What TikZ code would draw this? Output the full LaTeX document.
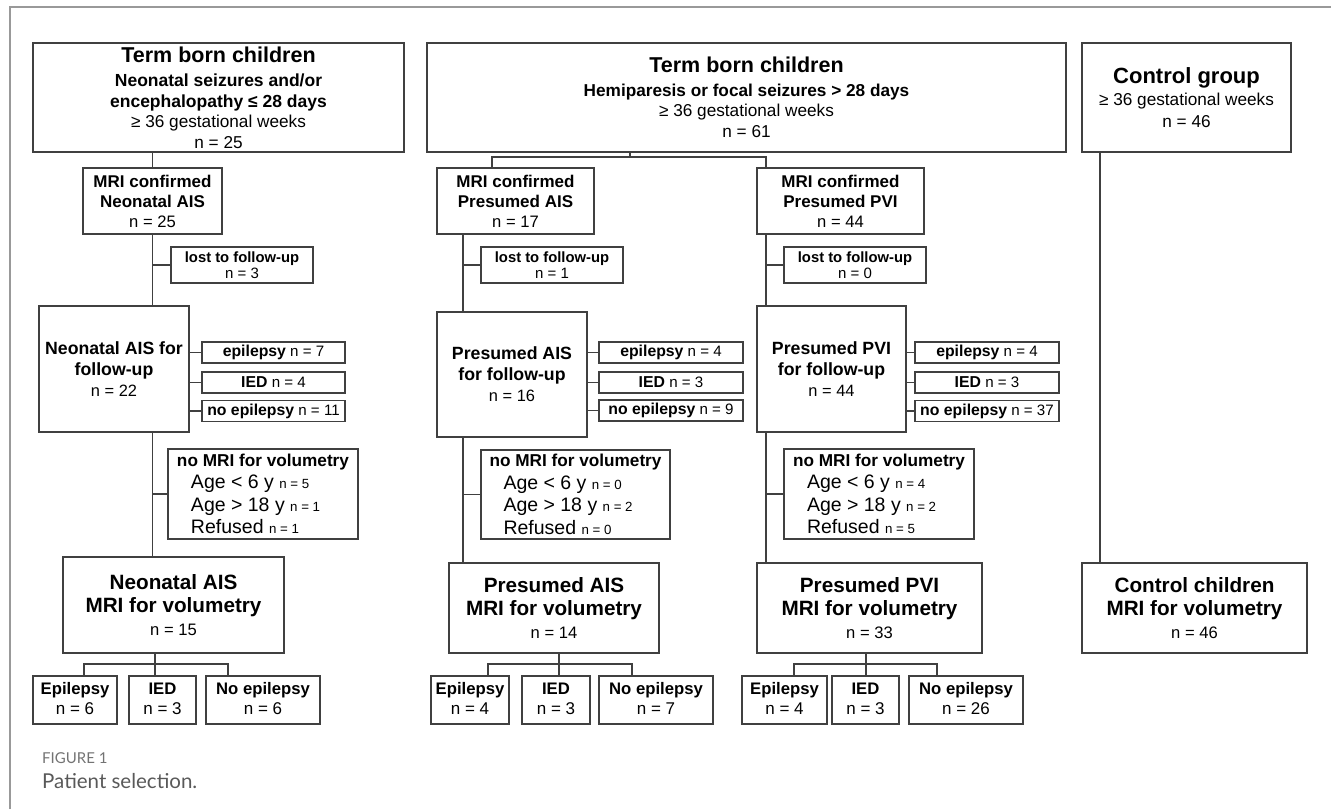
\documentclass[tikz,border=0pt]{standalone}
\usepackage{fontspec}
\setmainfont{Liberation Sans}
\newfontfamily\captionfont{Lato}
\usepackage{tikz}
\newcommand{\fsz}[2]{\fontsize{#1}{#2}\selectfont}

\begin{document}
\begin{tikzpicture}[x=1pt, y=-1pt,
    box/.style={draw=black!75, line width=1.4pt, fill=white, align=center, inner sep=0pt, text=black},
    dims/.style 2 args={minimum width=#1pt, minimum height=#2pt},
    link/.style={black!75, line width=1.4pt}]
    \useasboundingbox (0,0) rectangle (1331,809);

    % Frame of the figure
    \draw[black!40, line width=1.2pt] (10,809) -- (10,7) -- (1331,7);

    % Top row
    \node[box, dims={371}{109}, font=\fsz{17.2}{20.5}] (top1) at (218.5,97.5)
        {{\fsz{21.5}{24}\bfseries Term born children}\\[4pt]
         {\fsz{17.5}{20.5}\bfseries Neonatal seizures and/or}\\
         {\fsz{17.5}{20.5}\bfseries encephalopathy ≤ 28 days}\\
         ≥ 36 gestational weeks\\
         n = 25};
    \node[box, dims={639}{109}, font=\fsz{17.2}{20.5}] (top2) at (746.5,97.5)
        {{\fsz{21.5}{24}\bfseries Term born children}\\[3pt]
         {\fsz{17.2}{20.5}\bfseries Hemiparesis or focal seizures > 28 days}\\
         ≥ 36 gestational weeks\\
         n = 61};
    \node[box, dims={209}{109}, font=\fsz{17.2}{22}] (top4) at (1186.5,97.5)
        {{\fsz{22}{24}\bfseries Control group}\\
         ≥ 36 gestational weeks\\
         n = 46};

    % MRI confirmed
    \node[box, dims={139}{66}, font=\fsz{16.6}{20}] (mri1) at (152.5,201)
        {{\fsz{17}{20}\bfseries MRI confirmed}\\{\fsz{17}{20}\bfseries Neonatal AIS}\\n = 25};
    \node[box, dims={157}{66}, font=\fsz{16.6}{20}] (mri2) at (515.5,201)
        {{\fsz{17}{20}\bfseries MRI confirmed}\\{\fsz{17}{20}\bfseries Presumed AIS}\\n = 17};
    \node[box, dims={167}{66}, font=\fsz{16.6}{20}] (mri3) at (840.5,201)
        {{\fsz{17}{20}\bfseries MRI confirmed}\\{\fsz{17}{20}\bfseries Presumed PVI}\\n = 44};

    % Lost to follow-up
    \node[box, dims={142}{36}, font=\fsz{15}{16}] (lost1) at (242,265)
        {{\fsz{14.8}{16}\bfseries lost to follow-up}\\n = 3};
    \node[box, dims={142}{36}, font=\fsz{15}{16}] (lost2) at (552,265)
        {{\fsz{14.8}{16}\bfseries lost to follow-up}\\n = 1};
    \node[box, dims={142}{36}, font=\fsz{15}{16}] (lost3) at (855,265)
        {{\fsz{14.8}{16}\bfseries lost to follow-up}\\n = 0};

    % For follow-up
    \node[box, dims={150}{126}, font=\fsz{16.4}{21}] (fu1) at (114,369)
        {{\fsz{17.7}{21}\bfseries Neonatal AIS for}\\{\fsz{17.7}{21}\bfseries follow-up}\\n = 22};
    \node[box, dims={150}{125}, font=\fsz{16.4}{21}] (fu2) at (512,374.5)
        {{\fsz{17.7}{21}\bfseries Presumed AIS}\\{\fsz{17.7}{21}\bfseries for follow-up}\\n = 16};
    \node[box, dims={149}{126}, font=\fsz{16.4}{21}] (fu3) at (831.5,369)
        {{\fsz{17.7}{21}\bfseries Presumed PVI}\\{\fsz{17.7}{21}\bfseries for follow-up}\\n = 44};

    % Outcome at follow-up
    \node[box, dims={143}{21}, font=\fsz{15.1}{18}] (ep1) at (273.5,352.5) {{\fsz{15.8}{18}\bfseries epilepsy} n = 7};
    \node[box, dims={143}{21}, font=\fsz{15.1}{18}] (ied1) at (273.5,382.5) {{\fsz{15.8}{18}\bfseries IED} n = 4};
    \node[box, dims={143}{21}, font=\fsz{15.1}{18}] (noep1) at (273.5,411) {{\fsz{15.8}{18}\bfseries no epilepsy} n = 11};
    \node[box, dims={144}{21}, font=\fsz{15.1}{18}] (ep2) at (671,352.5) {{\fsz{15.8}{18}\bfseries epilepsy} n = 4};
    \node[box, dims={144}{21}, font=\fsz{15.1}{18}] (ied2) at (671,382.5) {{\fsz{15.8}{18}\bfseries IED} n = 3};
    \node[box, dims={144}{21}, font=\fsz{15.1}{18}] (noep2) at (671,410.5) {{\fsz{15.8}{18}\bfseries no epilepsy} n = 9};
    \node[box, dims={144}{21}, font=\fsz{15.1}{18}] (ep3) at (987,352.5) {{\fsz{15.8}{18}\bfseries epilepsy} n = 4};
    \node[box, dims={144}{21}, font=\fsz{15.1}{18}] (ied3) at (987,382.5) {{\fsz{15.8}{18}\bfseries IED} n = 3};
    \node[box, dims={144}{21}, font=\fsz{15.1}{18}] (noep3) at (987,411) {{\fsz{15.8}{18}\bfseries no epilepsy} n = 37};

    % No MRI for volumetry
    \node[box, dims={190}{90}, align=left, font=\fsz{19.5}{22.5}] (nomri1) at (263,494)
        {{\fsz{17.2}{20}\bfseries no MRI for volumetry}\\
         \hspace*{14pt}Age < 6 y {\fsz{13.3}{16}n = 5}\\
         \hspace*{14pt}Age > 18 y {\fsz{13.3}{16}n = 1}\\
         \hspace*{14pt}Refused {\fsz{13.3}{16}n = 1}};
    \node[box, dims={189}{89}, align=left, font=\fsz{19.5}{22.5}] (nomri2) at (575.5,494.5)
        {{\fsz{17.2}{20}\bfseries no MRI for volumetry}\\
         \hspace*{14pt}Age < 6 y {\fsz{13.3}{16}n = 0}\\
         \hspace*{14pt}Age > 18 y {\fsz{13.3}{16}n = 2}\\
         \hspace*{14pt}Refused {\fsz{13.3}{16}n = 0}};
    \node[box, dims={190}{90}, align=left, font=\fsz{19.5}{22.5}] (nomri3) at (879,494)
        {{\fsz{17.2}{20}\bfseries no MRI for volumetry}\\
         \hspace*{14pt}Age < 6 y {\fsz{13.3}{16}n = 4}\\
         \hspace*{14pt}Age > 18 y {\fsz{13.3}{16}n = 2}\\
         \hspace*{14pt}Refused {\fsz{13.3}{16}n = 5}};

    % MRI for volumetry
    \node[box, dims={221}{96}, font=\fsz{16.6}{23}] (vol1) at (173.5,605)
        {{\fsz{20.7}{24}\bfseries Neonatal AIS}\\{\fsz{20.7}{24}\bfseries MRI for volumetry}\\n = 15};
    \node[box, dims={210}{90}, font=\fsz{16.6}{23}] (vol2) at (554,608)
        {{\fsz{20.7}{24}\bfseries Presumed AIS}\\{\fsz{20.7}{24}\bfseries MRI for volumetry}\\n = 14};
    \node[box, dims={225}{90}, font=\fsz{16.6}{23}] (vol3) at (869.5,608)
        {{\fsz{20.7}{24}\bfseries Presumed PVI}\\{\fsz{20.7}{24}\bfseries MRI for volumetry}\\n = 33};
    \node[box, dims={225}{90}, font=\fsz{16.6}{23}] (vol4) at (1194.5,608)
        {{\fsz{20.7}{24}\bfseries Control children}\\{\fsz{20.7}{24}\bfseries MRI for volumetry}\\n = 46};

    % Bottom row
    \node[box, dims={84}{48}, font=\fsz{17}{20}] (bep1) at (75,700) {{\fsz{16.7}{20}\bfseries Epilepsy}\strut\\n = 6\strut};
    \node[box, dims={67}{48}, font=\fsz{17}{20}] (bied1) at (162.5,700) {{\fsz{16.7}{20}\bfseries IED}\strut\\n = 3\strut};
    \node[box, dims={114}{48}, font=\fsz{17}{20}] (bno1) at (263,700) {{\fsz{16.7}{20}\bfseries No epilepsy}\strut\\n = 6\strut};
    \node[box, dims={78}{48}, font=\fsz{17}{20}] (bep2) at (470,700) {{\fsz{16.7}{20}\bfseries Epilepsy}\strut\\n = 4\strut};
    \node[box, dims={68}{48}, font=\fsz{17}{20}] (bied2) at (556,700) {{\fsz{16.7}{20}\bfseries IED}\strut\\n = 3\strut};
    \node[box, dims={114}{48}, font=\fsz{17}{20}] (bno2) at (656,700) {{\fsz{16.7}{20}\bfseries No epilepsy}\strut\\n = 7\strut};
    \node[box, dims={85}{48}, font=\fsz{17}{20}] (bep3) at (784.5,700) {{\fsz{16.7}{20}\bfseries Epilepsy}\strut\\n = 4\strut};
    \node[box, dims={67}{48}, font=\fsz{17}{20}] (bied3) at (865.5,700) {{\fsz{16.7}{20}\bfseries IED}\strut\\n = 3\strut};
    \node[box, dims={114}{48}, font=\fsz{17}{20}] (bno3) at (966,700) {{\fsz{16.7}{20}\bfseries No epilepsy}\strut\\n = 26\strut};

    % Trunk positions and split points
    \coordinate (t2) at (463,0);
    \coordinate (t3) at (766,0);
    \coordinate (t4) at (1100,0);
    \coordinate (d2) at (492,0);
    \coordinate (s2) at (630,157);
    \coordinate (s1) at (155,664);
    \coordinate (s3) at (559,664);
    \coordinate (s4) at (866,664);

    % Neonatal AIS column
    \draw[link] (top1.south -| mri1.north) -- (mri1.north);
    \draw[link] (mri1.south) -- (mri1.south |- fu1.north);
    \draw[link] (mri1.south |- fu1.south) -- (mri1.south |- vol1.north);
    \draw[link] (mri1.south |- lost1.west) -- (lost1.west);
    \draw[link] (mri1.south |- nomri1.west) -- (nomri1.west);
    \draw[link] (fu1.east |- ep1.west) -- (ep1.west);
    \draw[link] (fu1.east |- ied1.west) -- (ied1.west);
    \draw[link] (fu1.east |- noep1.west) -- (noep1.west);
    \draw[link] (vol1.south -| s1) -- (bied1.north -| s1);
    \draw[link] ([xshift=9pt]bep1.north) |- (s1) -| ([xshift=-35pt]bno1.north);

    % Split of the second group
    \draw[link] (top2.south -| s2) -- (s2);
    \draw[link] (mri2.north -| d2) |- (s2) -| (mri3.north -| t3);

    % Presumed AIS column
    \draw[link] (mri2.south -| t2) -- (fu2.north -| t2);
    \draw[link] (fu2.south -| t2) -- (vol2.north -| t2);
    \draw[link] (lost2.west -| t2) -- (lost2.west);
    \draw[link] (nomri2.west -| t2) -- (nomri2.west);
    \draw[link] (fu2.east |- ep2.west) -- (ep2.west);
    \draw[link] (fu2.east |- ied2.west) -- (ied2.west);
    \draw[link] (fu2.east |- noep2.west) -- (noep2.west);
    \draw[link] (vol2.south -| s3) -- (bied2.north -| s3);
    \draw[link] ([xshift=18pt]bep2.north) |- (s3) -| ([xshift=-24pt]bno2.north);

    % Presumed PVI column
    \draw[link] (mri3.south -| t3) -- (fu3.north -| t3);
    \draw[link] (fu3.south -| t3) -- (vol3.north -| t3);
    \draw[link] (lost3.west -| t3) -- (lost3.west);
    \draw[link] (nomri3.west -| t3) -- (nomri3.west);
    \draw[link] (fu3.east |- ep3.west) -- (ep3.west);
    \draw[link] (fu3.east |- ied3.west) -- (ied3.west);
    \draw[link] (fu3.east |- noep3.west) -- (noep3.west);
    \draw[link] (vol3.south -| s4) -- (bied3.north -| s4);
    \draw[link] ([xshift=9.5pt]bep3.north) |- (s4) -| ([xshift=-29pt]bno3.north);

    % Control column
    \draw[link] (top4.south -| t4) -- (vol4.north -| t4);

    % Caption
    \node[anchor=west, inner sep=0pt, text=black!55, font=\captionfont\fsz{15}{17}] (fig) at (42,758) {FIGURE 1};
    \node[anchor=west, inner sep=0pt, text=black!65, font=\captionfont\fsz{20.5}{23}] (cap) at (42,781) {Patient selection.};
\end{tikzpicture}
\end{document}
